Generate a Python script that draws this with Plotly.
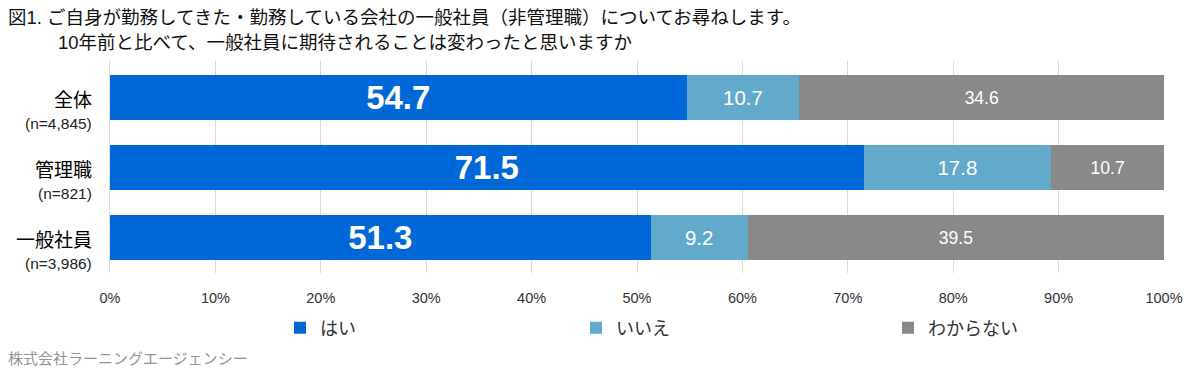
import plotly.graph_objects as go

categories = ["全体", "管理職", "一般社員"]
sample_sizes = ["(n=4,845)", "(n=821)", "(n=3,986)"]
series_names = ["はい", "いいえ", "わからない"]
yes_vals = [54.7, 71.5, 51.3]
no_vals = [10.7, 17.8, 9.2]
dk_vals = [34.6, 10.7, 39.5]
tick_vals = [0, 10, 20, 30, 40, 50, 60, 70, 80, 90, 100]
tick_labels = ["0%", "10%", "20%", "30%", "40%", "50%", "60%", "70%", "80%", "90%", "100%"]

colors = ["#0068D6", "#62A9CC", "#898989"]
FONT = "Liberation Sans, Arial, Noto Sans CJK JP, sans-serif"
JP = "Noto Sans CJK JP, sans-serif"

# figure geometry (page body has an 8px margin)
W, H = 1192, 369
L, R, T, B = 102, 36, 53, 104
PW, PH = W - L - R, H - T - B


def px(x):
    return (x - L) / PW


def py(y):
    return 1 - (y - T) / PH


legend_ids = ["legend", "legend2", "legend3"]
legend_x = [272, 568, 880]

fig = go.Figure()
for name, vals, col, fs, bold, lg in [
    (series_names[0], yes_vals, colors[0], 33, True, legend_ids[0]),
    (series_names[1], no_vals, colors[1], 20.5, False, legend_ids[1]),
    (series_names[2], dk_vals, colors[2], 17.5, False, legend_ids[2]),
]:
    fig.add_trace(go.Bar(
        name=name, y=categories, x=vals, orientation="h",
        marker=dict(color=col, line=dict(width=0)),
        text=[(f"<b>{v:.1f}</b>" if bold else f"{v:.1f}") for v in vals],
        textposition="inside", insidetextanchor="middle",
        textfont=dict(color="white", size=fs, family=FONT),
        constraintext="none", hoverinfo="skip", legend=lg,
    ))

legend_common = dict(orientation="h", xanchor="left", y=py(320), yanchor="middle",
                     font=dict(size=18, color="#333", family=JP), itemwidth=30,
                     bgcolor="rgba(0,0,0,0)")

fig.update_layout(
    barmode="stack", bargap=0.36,
    width=W, height=H,
    margin=dict(l=L, r=R, t=T, b=B, autoexpand=False),
    paper_bgcolor="white", plot_bgcolor="white",
    font=dict(family=FONT, color="#222"),
    showlegend=True,
    legend=dict(x=px(legend_x[0]), **legend_common),
    legend2=dict(x=px(legend_x[1]), **legend_common),
    legend3=dict(x=px(legend_x[2]), **legend_common),
    xaxis=dict(range=[0, 100], tickvals=tick_vals, ticktext=tick_labels,
               showgrid=True, gridcolor="#D9D9D9", gridwidth=1, zeroline=False,
               showline=False, tickfont=dict(size=14.5, color="#333", family=FONT),
               ticks="outside", ticklen=12, tickcolor="rgba(0,0,0,0)", fixedrange=True),
    yaxis=dict(autorange="reversed", showticklabels=False, showgrid=False,
               showline=True, linecolor="#D9D9D9", linewidth=1, ticks="", fixedrange=True),
)

for cat, n in zip(categories, sample_sizes):
    fig.add_annotation(x=px(86), xref="paper", y=cat, yref="y", text=cat, yshift=-1,
                       showarrow=False, xanchor="right", yanchor="middle",
                       font=dict(size=19, color="#000", family=JP))
    fig.add_annotation(x=px(86), xref="paper", y=cat, yref="y", text=n, yshift=-26,
                       showarrow=False, xanchor="right", yanchor="middle",
                       font=dict(size=15.5, color="#222", family=FONT))

fig.add_annotation(xref="paper", yref="paper", x=px(-2), y=py(9),
                   text="図1. ご自身が勤務してきた・勤務している会社の一般社員（非管理職）についてお尋ねします。",
                   showarrow=False, xanchor="left", yanchor="middle",
                   font=dict(size=18.5, color="#111", family=FONT))
fig.add_annotation(xref="paper", yref="paper", x=px(48), y=py(35),
                   text="10年前と比べて、一般社員に期待されることは変わったと思いますか",
                   showarrow=False, xanchor="left", yanchor="middle",
                   font=dict(size=18.5, color="#111", family=FONT))
fig.add_annotation(xref="paper", yref="paper", x=px(-2), y=py(349),
                   text="株式会社ラーニングエージェンシー",
                   showarrow=False, xanchor="left", yanchor="middle",
                   font=dict(size=15, color="#939393", family=JP))

fig.write_html("out.html")
